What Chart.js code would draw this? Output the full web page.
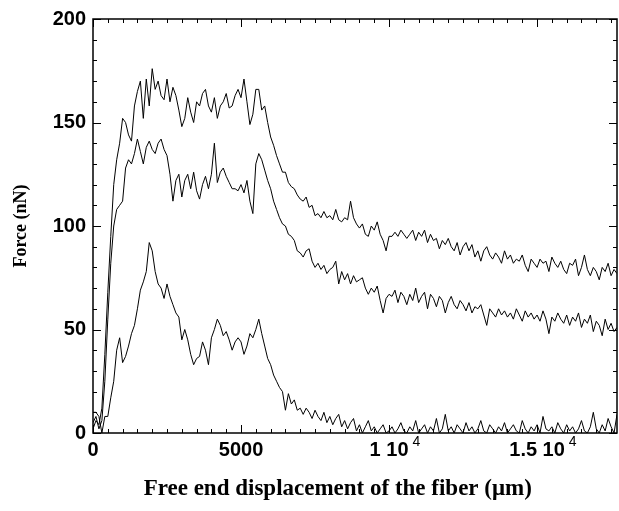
<!DOCTYPE html>
<html>
<head>
<meta charset="utf-8">
<script src="https://cdn.jsdelivr.net/npm/chart.js@4"></script>
<style>
  html, body { margin: 0; padding: 0; background: #fff; }
  canvas { display: block; }
</style>
</head>
<body>
<canvas id="forceChart" width="619" height="511"></canvas>
<script>
// sampling step of the force traces along x (µm)
const X_STEP = 100;
const X_MAX = 17700;
const Y_MAX = 200;

// upper trace
const forceTop = [
  2, 6, 4, 12, 38, 68, 95, 120, 132, 140,
  152, 150, 144, 141, 158, 165, 170, 152, 171, 158,
  176, 166, 170, 163, 161, 171, 160, 167, 163, 156,
  148, 152, 162, 155, 150, 160, 158, 164, 166, 158,
  155, 162, 152, 158, 160, 164, 157, 158, 163, 166,
  162, 171, 160, 149, 154, 166, 166, 156, 158, 150,
  143, 139, 134, 130, 126, 126, 121, 119, 118, 115,
  113, 112, 114, 109, 110, 105, 106, 104, 107, 104,
  105, 103, 108, 103, 102, 104, 103, 112, 104, 101,
  99, 101, 96, 95, 100, 98, 102, 96, 93, 88,
  95, 95, 97, 95, 98, 96, 94, 96, 98, 93,
  97, 95, 98, 92, 96, 93, 94, 89, 93, 91,
  94, 90, 88, 92, 86, 90, 92, 88, 91, 85,
  88, 83, 88, 90, 86, 84, 87, 85, 82, 88,
  84, 86, 82, 84, 83, 86, 81, 78, 84, 82,
  80, 84, 82, 83, 78, 85, 82, 80, 83, 79,
  77, 82, 81, 84, 76, 80, 86, 79, 76, 80,
  78, 74, 80, 78, 82, 76, 79, 77
];

// middle trace
const forceMiddle = [
  5, 8, 2, 6, 25, 55, 82, 100, 108, 110,
  112, 128, 132, 130, 135, 142, 136, 130, 138, 141,
  137, 135, 140, 142, 137, 134, 125, 112, 122, 125,
  114, 122, 125, 118, 126, 117, 113, 120, 124, 118,
  125, 140, 121, 126, 128, 124, 121, 118, 118, 117,
  120, 116, 122, 112, 106, 130, 135, 132, 127, 122,
  118, 112, 108, 104, 101, 100, 96, 95, 93, 88,
  87, 85, 88, 89, 83, 80, 82, 79, 81, 77,
  79, 80, 83, 72, 78, 74, 77, 72, 76, 73,
  74, 75, 70, 67, 70, 68, 71, 64, 58, 65,
  67, 66, 69, 63, 68, 66, 62, 67, 64, 70,
  63, 66, 68, 60, 67, 65, 61, 66, 64, 58,
  63, 66, 62, 60, 64, 62, 59, 63, 58, 61,
  60, 62, 57, 52, 60, 58, 56, 60, 57, 59,
  56, 58, 55, 60, 57, 54, 59, 56, 58, 55,
  57, 54, 59, 55, 48, 56, 54, 58, 55, 53,
  57, 52, 56, 54, 58, 51, 55, 53, 57, 49,
  54, 52, 47, 55, 50, 53, 49, 51
];

// lower trace
const forceBottom = [
  10, 10, 8, 0, 8, 8, 17, 25, 40, 46,
  34, 37, 42, 48, 52, 60, 69, 73, 78, 92,
  88, 78, 72, 70, 65, 72, 66, 62, 58, 56,
  45, 50, 45, 38, 33, 36, 37, 44, 40, 33,
  46, 50, 55, 52, 47, 49, 45, 40, 44, 46,
  44, 38, 42, 48, 46, 50, 55, 48, 42, 36,
  33, 28, 25, 22, 20, 11, 19, 14, 16, 11,
  12, 9, 12, 10, 7, 11, 8, 6, 10, 5,
  8, 4, 7, 9, 3, 6, 2, 5, 7, 1,
  4, 0, 3, 6, 1, 3, 0, 2, 4, 0,
  1, 3, 0, 2, 5, 1, 0, 3, 1, 6,
  0, 2, 4, 0, 3, 1, 7, 0, 2, 9,
  1, 3, 0, 4, 2, 0, 5, 1, 3, 0,
  2, 6, 1, 0, 4, 2, 0, 3, 1, 5,
  0, 2, 4, 1, 0, 6, 2, 0, 3, 1,
  4, 0, 8, 2, 1, 3, 0, 5, 2, 0,
  4, 1, 3, 0, 2, 6, 1, 0, 3, 10,
  2, 0, 4, 1, 7, 3, 0, 9
];

// axis ticks
const xMajorTicks = [0, 5000, 10000, 15000];
const xMajorLabels = ['0', '5000', '1 10', '1.5 10'];
const xMajorExponents = ['', '', '4', '4'];
const xMinorStep = 500;
const yMajorTicks = [0, 50, 100, 150, 200];
const yMinorStep = 10;

const TICK_FONT = { family: "'Liberation Sans', Arial, sans-serif", weight: 'bold', size: 20 };
const X_TITLE_FONT = { family: "'Liberation Serif', 'Times New Roman', serif", weight: 'bold', size: 23 };
const Y_TITLE_FONT = { family: "'Liberation Serif', 'Times New Roman', serif", weight: 'bold', size: 18 };

function toPoints(arr) {
  return arr.map((f, i) => ({ x: i * X_STEP, y: f }));
}

function minorTicks(max, step) {
  const out = [];
  for (let v = 0; v <= max; v += step) out.push({ value: v });
  return out;
}

// inward ticks on all four sides, plot frame, and the 10^4 exponents
const frameAndTicks = {
  id: 'frameAndTicks',
  afterDatasetsDraw(chart) {
    const { ctx, chartArea: a, scales: { x, y } } = chart;
    ctx.save();
    ctx.strokeStyle = '#000';
    ctx.lineWidth = 1;
    ctx.beginPath();
    x.ticks.forEach(t => {
      const px = Math.round(x.getPixelForValue(t.value)) + 0.5;
      const len = xMajorTicks.includes(t.value) ? 8 : 4;
      ctx.moveTo(px, a.bottom); ctx.lineTo(px, a.bottom - len);
      ctx.moveTo(px, a.top); ctx.lineTo(px, a.top + len);
    });
    y.ticks.forEach(t => {
      const py = Math.round(y.getPixelForValue(t.value)) + 0.5;
      const len = yMajorTicks.includes(t.value) ? 8 : 4;
      ctx.moveTo(a.left, py); ctx.lineTo(a.left + len, py);
      ctx.moveTo(a.right, py); ctx.lineTo(a.right - len, py);
    });
    ctx.stroke();
    ctx.lineWidth = 1.5;
    ctx.strokeRect(a.left, a.top, a.right - a.left, a.bottom - a.top);

    // exponent after "1 10" / "1.5 10"
    ctx.fillStyle = '#000';
    ctx.textBaseline = 'top';
    ctx.textAlign = 'left';
    xMajorTicks.forEach((v, i) => {
      if (!xMajorExponents[i]) return;
      ctx.font = `bold ${TICK_FONT.size}px ${TICK_FONT.family}`;
      const w = ctx.measureText(xMajorLabels[i]).width;
      ctx.font = `14px ${TICK_FONT.family}`;
      ctx.fillText(xMajorExponents[i], x.getPixelForValue(v) + w / 2 + 4, a.bottom + 2);
    });
    ctx.restore();
  }
};

const traceStyle = { borderColor: '#000', borderWidth: 1, pointRadius: 0, tension: 0, fill: false };

new Chart(document.getElementById('forceChart'), {
  type: 'line',
  data: {
    datasets: [
      { label: 'top', data: toPoints(forceTop), ...traceStyle },
      { label: 'middle', data: toPoints(forceMiddle), ...traceStyle },
      { label: 'bottom', data: toPoints(forceBottom), ...traceStyle }
    ]
  },
  options: {
    responsive: false,
    animation: false,
    devicePixelRatio: 1,
    layout: { padding: { top: 17, right: 2, left: 0, bottom: 0 } },
    plugins: { legend: { display: false }, tooltip: { enabled: false } },
    scales: {
      x: {
        type: 'linear',
        min: 0,
        max: X_MAX,
        afterBuildTicks: s => { s.ticks = minorTicks(X_MAX, xMinorStep); },
        afterFit: s => { s.height = 78; },
        grid: { display: false, drawTicks: false },
        border: { display: false },
        ticks: {
          autoSkip: false,
          maxRotation: 0,
          padding: 5,
          color: '#000',
          font: TICK_FONT,
          callback: v => {
            const i = xMajorTicks.indexOf(v);
            return i >= 0 ? xMajorLabels[i] : '';
          }
        },
        title: {
          display: true,
          // trailing spaces pull the centred title a little left, as in the original
          text: 'Free end displacement of the fiber (μm)\u00a0\u00a0\u00a0\u00a0\u00a0\u00a0',
          color: '#000',
          font: X_TITLE_FONT,
          padding: { top: 0, bottom: 8 }
        }
      },
      y: {
        min: 0,
        max: Y_MAX,
        afterBuildTicks: s => { s.ticks = minorTicks(Y_MAX, yMinorStep); },
        afterFit: s => { s.width = 93; },
        grid: { display: false, drawTicks: false },
        border: { display: false },
        ticks: {
          autoSkip: false,
          padding: 7,
          color: '#000',
          font: TICK_FONT,
          callback: v => yMajorTicks.includes(v) ? String(v) : ''
        },
        title: {
          display: true,
          text: 'Force (nN)',
          color: '#000',
          font: Y_TITLE_FONT,
          padding: { top: 11, bottom: 0 }
        }
      }
    }
  },
  plugins: [frameAndTicks]
});
</script>
</body>
</html>
